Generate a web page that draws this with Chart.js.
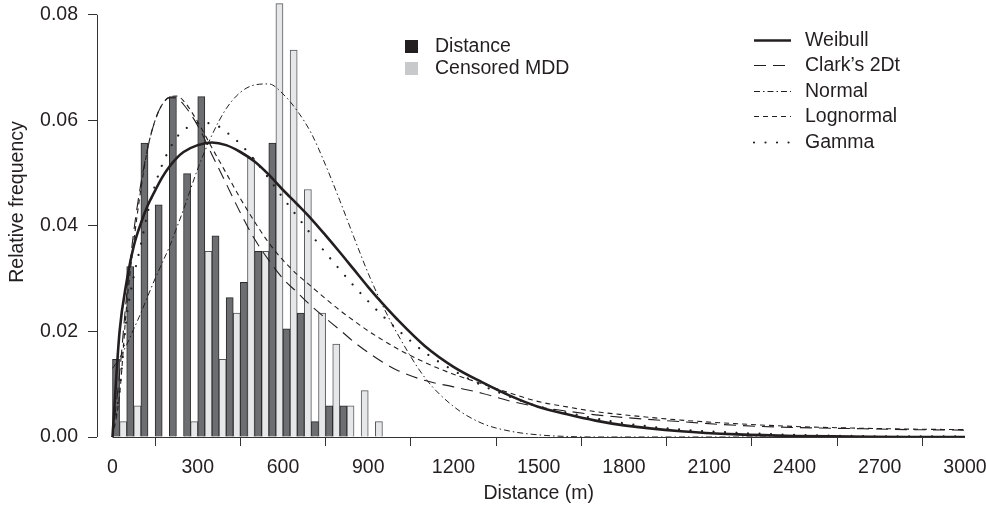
<!DOCTYPE html>
<html>
<head>
<meta charset="utf-8">
<title>Distance distribution</title>
<script src="https://cdn.jsdelivr.net/npm/chart.js@4.4.1/dist/chart.umd.min.js"></script>
<style>
  html, body { margin: 0; padding: 0; background: #ffffff; }
  #chart { display: block; }
</style>
</head>
<body>
<canvas id="chart" width="986" height="508"></canvas>
<script>
// Histogram bins (50 m wide), bin centres in metres
const binCenters = [25, 75, 125, 175, 225, 275, 325, 375, 425, 475, 525, 575, 625, 675, 725, 775, 825, 875, 925];
const distanceFreq = [0.0147, 0.0323, 0.0557, 0.0440, 0.0645, 0.0499, 0.0645, 0.0381, 0.0264, 0.0293, 0.0352, 0.0557, 0.0205, 0.0235, 0.0029, 0.0059, 0.0059, 0, 0];
const censoredFreq = [0.0029, 0.0059, 0, 0, 0, 0.0029, 0.0352, 0.0147, 0.0235, 0.0528, 0.0352, 0.0821, 0.0733, 0.0469, 0.0235, 0.0176, 0.0059, 0.0088, 0.0029];

// Fitted curves, sampled along the distance axis
const curveX    = [0, 25, 50, 75, 100, 125, 150, 175, 200, 225, 250, 300, 350, 400, 450, 500, 550, 600, 650, 700, 750, 800, 850, 900, 950, 1000, 1100, 1200, 1300, 1400, 1500, 1600, 1700, 1800, 2000, 2200, 2400, 2600, 2800, 3000];
const weibull   = [0, 0.0200, 0.0295, 0.0362, 0.0405, 0.0440, 0.0467, 0.0492, 0.0512, 0.0528, 0.0540, 0.0553, 0.0558, 0.0553, 0.0540, 0.0522, 0.0497, 0.0468, 0.0441, 0.0413, 0.0382, 0.0350, 0.0317, 0.0284, 0.0253, 0.0224, 0.0172, 0.0133, 0.0104, 0.0078, 0.0057, 0.0043, 0.0031, 0.0022, 0.0011, 0.0005, 0.0002, 0.0001, 0, 0];
const clark2Dt  = [0, 0.0120, 0.0270, 0.0390, 0.0480, 0.0550, 0.0600, 0.0630, 0.0643, 0.0642, 0.0630, 0.0590, 0.0535, 0.0480, 0.0425, 0.0375, 0.0335, 0.0300, 0.0274, 0.0248, 0.0225, 0.0203, 0.0180, 0.0160, 0.0142, 0.0127, 0.0107, 0.0095, 0.0083, 0.0068, 0.0057, 0.0049, 0.0042, 0.0037, 0.0029, 0.0022, 0.0018, 0.0016, 0.0014, 0.0013];
const normal    = [0.0130, 0.0150, 0.0175, 0.0205, 0.0235, 0.0268, 0.0300, 0.0330, 0.0360, 0.0395, 0.0431, 0.0508, 0.0572, 0.0622, 0.0653, 0.0667, 0.0669, 0.0650, 0.0618, 0.0575, 0.0515, 0.0448, 0.0378, 0.0310, 0.0250, 0.0198, 0.0112, 0.0058, 0.0026, 0.0011, 0.0004, 0.0001, 0, 0, 0, 0, 0, 0, 0, 0];
const lognormal = [0, 0.0080, 0.0250, 0.0370, 0.0470, 0.0550, 0.0600, 0.0630, 0.0644, 0.0646, 0.0637, 0.0597, 0.0548, 0.0500, 0.0452, 0.0408, 0.0368, 0.0335, 0.0308, 0.0285, 0.0262, 0.0240, 0.0220, 0.0201, 0.0184, 0.0168, 0.0141, 0.0119, 0.0101, 0.0083, 0.0067, 0.0057, 0.0048, 0.0042, 0.0032, 0.0025, 0.0020, 0.0017, 0.0015, 0.0014];
const gamma     = [0, 0.0090, 0.0228, 0.0305, 0.0365, 0.0428, 0.0478, 0.0516, 0.0545, 0.0567, 0.0581, 0.0595, 0.0594, 0.0578, 0.0555, 0.0525, 0.0490, 0.0453, 0.0418, 0.0383, 0.0349, 0.0317, 0.0286, 0.0257, 0.0230, 0.0205, 0.0160, 0.0126, 0.0098, 0.0076, 0.0058, 0.0046, 0.0035, 0.0026, 0.0014, 0.0008, 0.0004, 0.0002, 0.0001, 0.0001];

// Axis ticks
const xTicks = [0, 300, 600, 900, 1200, 1500, 1800, 2100, 2400, 2700, 3000];
const yTicks = [0, 0.02, 0.04, 0.06, 0.08];

const ink = '#231f20';
const fontFamily = '"Liberation Sans", Arial, Helvetica, sans-serif';
const fontSize = 19.5;

Chart.defaults.font.family = fontFamily;
Chart.defaults.font.size = fontSize;
Chart.defaults.color = ink;

const barLegend = [
    { label: 'Distance', color: ink },
    { label: 'Censored MDD', color: '#c8c9cb' }
];

const curveStyles = [
    { label: 'Weibull', data: weibull, width: 2.6, dash: [], cap: 'butt' },
    { label: 'Clark\u2019s 2Dt', data: clark2Dt, width: 1.1, dash: [12, 7], cap: 'butt' },
    { label: 'Normal', data: normal, width: 1, dash: [6, 3, 1.5, 3], cap: 'butt' },
    { label: 'Lognormal', data: lognormal, width: 1.1, dash: [5, 4], cap: 'butt' },
    { label: 'Gamma', data: gamma, width: 2.2, dash: [0.01, 11.5], cap: 'round' }
];

function toPoints(xs, ys) {
    return xs.map((x, i) => ({ x: x, y: ys[i] }));
}

const lineDatasets = curveStyles.map(c => ({
    type: 'line',
    label: c.label,
    data: toPoints(curveX, c.data),
    borderColor: ink,
    borderWidth: c.width,
    borderDash: c.dash,
    borderCapStyle: c.cap,
    cubicInterpolationMode: 'monotone',
    pointRadius: 0,
    fill: false,
    order: 1
}));

const barDatasets = [
    {
        type: 'bar',
        label: 'Distance',
        data: toPoints(binCenters, distanceFreq),
        backgroundColor: '#6d6e71',
        borderColor: '#2a2a2a',
        borderWidth: 1,
        barPercentage: 1,
        categoryPercentage: 1,
        order: 2
    },
    {
        type: 'bar',
        label: 'Censored MDD',
        data: toPoints(binCenters, censoredFreq),
        backgroundColor: '#e6e7e8',
        borderColor: '#58595b',
        borderWidth: 1,
        barPercentage: 1,
        categoryPercentage: 1,
        order: 2
    }
];

// Axis lines (only over the ticked range), axis titles and both legend blocks
const decorations = {
    id: 'decorations',
    afterDraw(chart) {
        const { ctx, chartArea, scales } = chart;
        const x = scales.x, y = scales.y;
        ctx.save();
        ctx.strokeStyle = '#333333';
        ctx.lineWidth = 1;
        ctx.setLineDash([]);

        const yZero = Math.round(y.getPixelForValue(0)) + 0.5;
        ctx.beginPath();
        ctx.moveTo(x.getPixelForValue(xTicks[0]), yZero);
        ctx.lineTo(x.getPixelForValue(xTicks[xTicks.length - 1]), yZero);
        ctx.stroke();

        const xLeft = Math.round(chartArea.left) + 0.5;
        ctx.beginPath();
        ctx.moveTo(xLeft, y.getPixelForValue(yTicks[0]));
        ctx.lineTo(xLeft, y.getPixelForValue(yTicks[yTicks.length - 1]));
        ctx.stroke();

        ctx.fillStyle = ink;
        ctx.font = fontSize + 'px ' + fontFamily;
        ctx.textBaseline = 'middle';

        // axis titles
        ctx.textAlign = 'center';
        const xMid = (x.getPixelForValue(xTicks[0]) + x.getPixelForValue(xTicks[xTicks.length - 1])) / 2;
        ctx.fillText('Distance (m)', xMid, 494);
        ctx.save();
        ctx.translate(18, 202);
        ctx.rotate(-Math.PI / 2);
        ctx.fillText('Relative frequency', 0, 0);
        ctx.restore();

        // histogram legend
        ctx.textAlign = 'left';
        barLegend.forEach((item, i) => {
            const cy = 46.5 + i * 22;
            ctx.fillStyle = item.color;
            ctx.fillRect(405, cy - 6.5, 13, 13);
            ctx.fillStyle = ink;
            ctx.fillText(item.label, 435, cy);
        });

        // curve legend
        curveStyles.forEach((c, i) => {
            const cy = Math.round(39.5 + i * 25.6) + 0.5;
            ctx.strokeStyle = ink;
            ctx.lineWidth = c.width;
            ctx.lineCap = c.cap;
            ctx.setLineDash(c.dash);
            ctx.beginPath();
            ctx.moveTo(754, cy);
            ctx.lineTo(791, cy);
            ctx.stroke();
            ctx.setLineDash([]);
            ctx.fillStyle = ink;
            ctx.fillText(c.label, 805, cy);
        });
        ctx.restore();
    }
};

new Chart(document.getElementById('chart'), {
    data: { datasets: lineDatasets.concat(barDatasets) },
    options: {
        responsive: false,
        animation: false,
        devicePixelRatio: 1,
        layout: { padding: { top: 0, right: 21, bottom: 0, left: 0 } },
        plugins: {
            legend: { display: false },
            tooltip: { enabled: false }
        },
        scales: {
            x: {
                type: 'linear',
                min: -54.5,
                max: 3000,
                offset: false,
                afterBuildTicks: scale => { scale.ticks = xTicks.map(v => ({ value: v })); },
                afterFit: scale => {
                    scale.height = 71;
                    scale.paddingLeft = 0;
                    scale.paddingRight = 0;
                },
                grid: { drawOnChartArea: false, drawTicks: true, tickLength: 9, color: '#333333', lineWidth: 1 },
                border: { display: false },
                ticks: { padding: 10, maxRotation: 0, autoSkip: false, color: ink, callback: v => String(v) }
            },
            y: {
                type: 'linear',
                min: 0,
                max: 0.0828,
                afterBuildTicks: scale => { scale.ticks = yTicks.map(v => ({ value: v })); },
                afterFit: scale => {
                    scale.width = 97;
                    scale.paddingTop = 0;
                    scale.paddingBottom = 0;
                },
                grid: { drawOnChartArea: false, drawTicks: true, tickLength: 9, color: '#333333', lineWidth: 1 },
                border: { display: false },
                ticks: { padding: 10, color: ink, callback: v => v.toFixed(2) }
            }
        }
    },
    plugins: [decorations]
});
</script>
</body>
</html>
